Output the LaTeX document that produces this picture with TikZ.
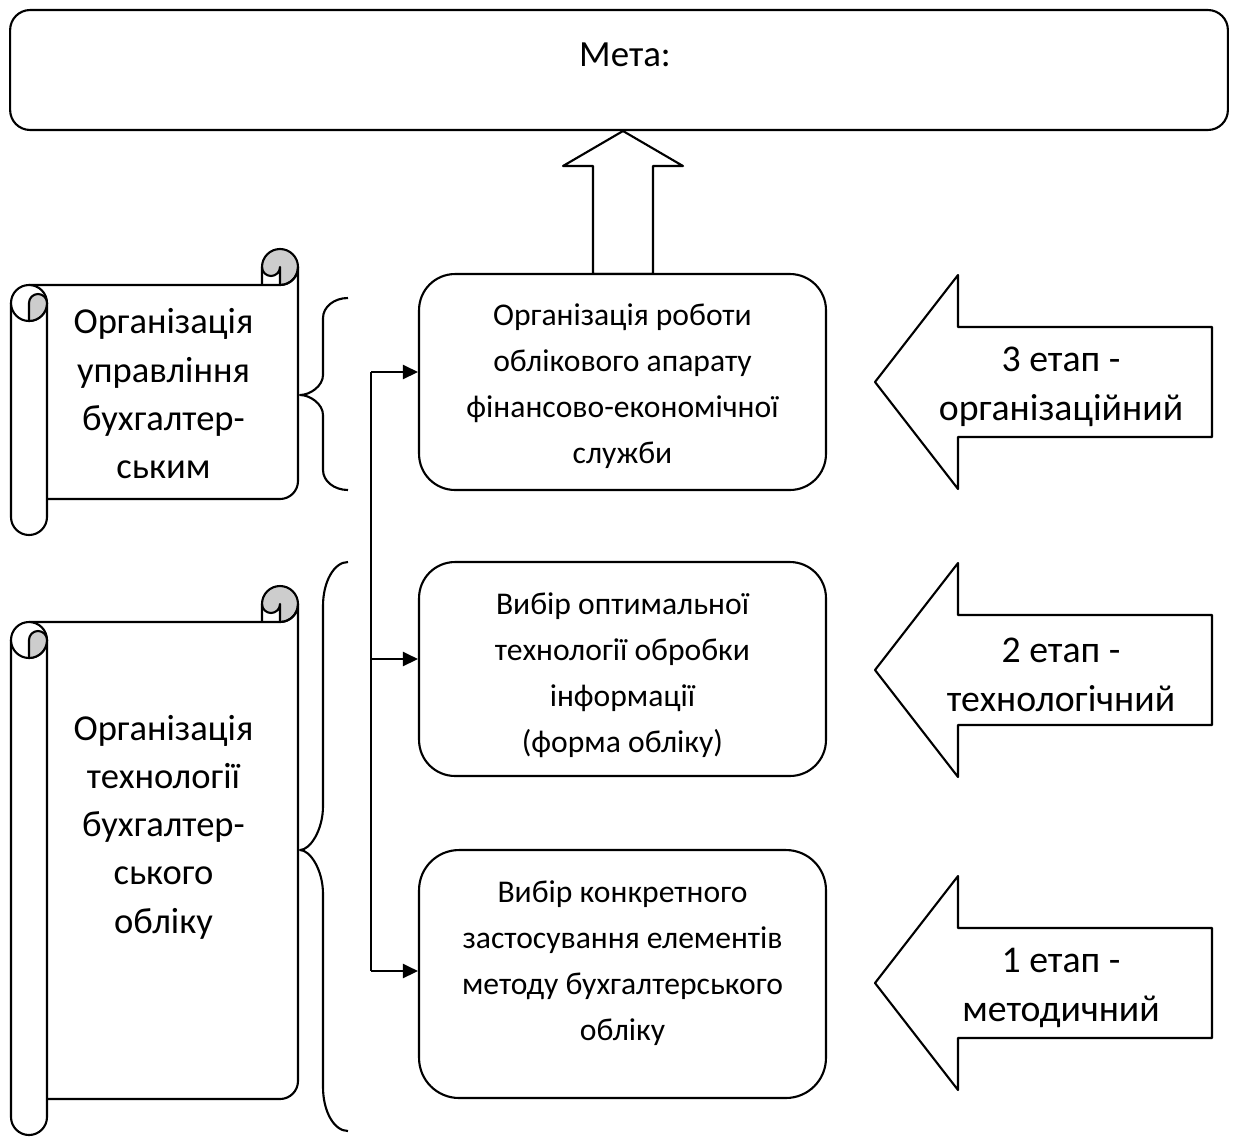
\documentclass[tikz,border=0pt]{standalone}
\usepackage{fontspec}
\setmainfont{Carlito}
\usetikzlibrary{arrows.meta,calc}
\definecolor{rollgrey}{RGB}{205,205,205}

% Scroll with a vertical roll on the left and a curl at the top right.
% Arguments: left, top, right, bottom (picture units, y grows downwards).
\newcommand\scrollshape[4]{%
  % grey inside of the top-right curl
  \fill[rollgrey] ({#3-18},{#2+18}) circle[radius=18];
  \fill[white] ({#3-36},{#2+18}) arc[start angle=180,end angle=0,radius=9]
     -- ({#3-18},{#2+36}) -- ({#3-36},{#2+36}) -- cycle;
  % sheet
  \draw ({#1+18},{#2+36}) -- ({#3-18},{#2+36})
     arc[start angle=90,end angle=0,radius=18] -- ({#3},{#4-54})
     arc[start angle=0,end angle=90,radius=18] -- ({#1+36},{#4-36});
  % outline of the top-right curl
  \draw ({#3-36},{#2+36}) -- ({#3-36},{#2+18})
     arc[start angle=180,end angle=450,radius=18];
  \draw ({#3-36},{#2+18}) arc[start angle=180,end angle=0,radius=9]
     -- ({#3-18},{#2+36});
  % left roll
  \draw[fill=white] ({#1},{#2+54}) -- ({#1},{#4-18})
     arc[start angle=180,end angle=0,radius=18] -- ({#1+36},{#2+54});
  \draw[fill=white] ({#1+18},{#2+54}) circle[radius=18];
  \draw[fill=rollgrey] ({#1+18},{#2+72}) -- ({#1+18},{#2+54})
     arc[start angle=180,end angle=360,radius=9]
     arc[start angle=0,end angle=90,radius=18] -- cycle;
}

% Left curly brace: top end, tip, bottom end, curl size.
\newcommand\leftbrace[4]{%
  \draw (348,{#1}) .. controls (334,{#1}) and (323,{#1+0.448*#4}) .. (323,{#1+#4})
     -- (323,{#2-#4}) .. controls (323,{#2-0.448*#4}) and (310,{#2}) .. (300,{#2})
     .. controls (310,{#2}) and (323,{#2+0.448*#4}) .. (323,{#2+#4})
     -- (323,{#3-#4}) .. controls (323,{#3-0.448*#4}) and (334,{#3}) .. (348,{#3});
}

% Wide arrow pointing left, centred vertically on #1.
\newcommand\stagearrow[1]{%
  \draw[fill=white] (875,{#1}) -- (958,{#1-107}) -- (958,{#1-55}) -- (1212,{#1-55})
     -- (1212,{#1+55}) -- (958,{#1+55}) -- (958,{#1+107}) -- cycle;
}

\begin{document}
\begin{tikzpicture}[x=0.02cm,y=-0.02cm,line width=1.2pt,line join=round,
  stepbox/.style={draw,fill=white,rounded corners=0.72cm,minimum width=8.14cm,
    minimum height=4.32cm,inner sep=0pt},
  boxtext/.style={align=center,inner sep=0pt,font=\fontsize{18}{26.2}\selectfont},
  scrolltext/.style={align=center,inner sep=0pt,font=\fontsize{20.8}{27.5}\selectfont},
  stagetext/.style={align=center,inner sep=0pt,font=\fontsize{21.5}{28}\selectfont},
  link/.style={-{Triangle[length=0.3cm,width=0.28cm]}}]

\useasboundingbox (0,0) rectangle (1239,1136);

% goal
\node[draw,rounded corners=0.4cm,minimum width=24.36cm,minimum height=2.4cm,inner sep=0pt]
  (goal) at (619,70) {};
\node[font=\fontsize{21}{26}\selectfont,inner sep=0pt] (goaltext) at (625,55) {Мета:};

% hollow arrow up to the goal
\draw[fill=white] (593,274) -- (593,166) -- (563,166) -- (623,131)
   -- (683,166) -- (653,166) -- (653,274) -- cycle;

% stage boxes
\node[stepbox] (org) at (622.5,382) {};
\node[boxtext] (orgtext) at (622.5,386)
  {Організація роботи\\облікового апарату\\фінансово-економічної\\служби};
\node[stepbox,minimum height=4.28cm] (tech) at (622.5,669) {};
\node[boxtext] (techtext) at (622.5,675)
  {Вибір оптимальної\\технології обробки\\інформації\\(форма обліку)};
\node[stepbox,minimum height=4.96cm,rounded corners=0.8cm] (meth) at (622.5,974) {};
\node[boxtext] (methtext) at (622.5,963)
  {Вибір конкретного\\застосування елементів\\методу бухгалтерського\\обліку};

% distribution line with arrows into the boxes
\coordinate (j1) at (371,372);
\coordinate (j2) at (371,659);
\coordinate (j3) at (371,971);
\draw (j1) -- (j3);
\draw[link] (j1) -- (j1 -| org.west);
\draw[link] (j2) -- (j2 -| tech.west);
\draw[link] (j3) -- (j3 -| meth.west);

% scrolls
\scrollshape{11}{249}{298}{535}
\node[scrolltext] (scrollA) at (163.5,394) {Організація\\управління\\бухгалтер-\\ським};
\scrollshape{11}{586}{298}{1135}
\node[scrolltext] (scrollB) at (163.5,827) {Організація\\технології\\бухгалтер-\\ського\\обліку};

% braces
\leftbrace{298}{395}{490}{20}
\leftbrace{562}{850}{1131}{44}

% stage arrows
\stagearrow{382}
\node[stagetext] (st3) at (1061,387) {3 етап -\\організаційний};
\stagearrow{670}
\node[stagetext] (st2) at (1061,675) {2 етап -\\технологічний};
\stagearrow{983}
\node[stagetext] (st1) at (1061,988) {1 етап -\\методичний};

\end{tikzpicture}
\end{document}
